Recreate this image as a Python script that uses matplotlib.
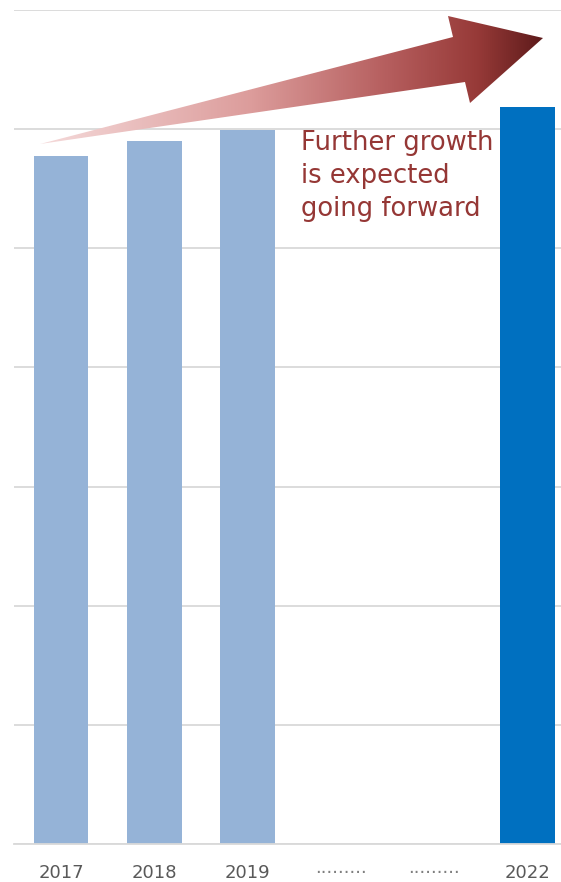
import numpy as np
import matplotlib
matplotlib.use("Agg")
import matplotlib.pyplot as plt
from matplotlib.patches import Polygon
from matplotlib.colors import LinearSegmentedColormap

# ---- data ----
categories = ["2017", "2018", "2019", "·········", "·········", "2022"]
values = [5.775, 5.90, 5.995, np.nan, np.nan, 6.186]
bar_colors = ["#95B3D7", "#95B3D7", "#95B3D7", "#95B3D7", "#95B3D7", "#0070C0"]
grid_ticks = [0, 1, 2, 3, 4, 5, 6, 7]
annotation = "Further growth\nis expected\ngoing forward"

W, H = 561, 882
fig = plt.figure(figsize=(W / 100, H / 100), dpi=100)
plt.rcParams['font.family'] = ['DejaVu Sans']

# main axes (extends slightly beyond right edge like the reference crop)
left_px, right_px, top_px, bot_px = 14.35, 14.35 + 6 * 93.3, 10, 844
ax = fig.add_axes([left_px / W, 1 - bot_px / H, (right_px - left_px) / W, (bot_px - top_px) / H])
x = np.arange(len(categories))
vals = np.nan_to_num(np.array(values, dtype=float), nan=0.0)
ax.bar(x, vals, width=0.585, color=bar_colors, zorder=2)
ax.set_xlim(-0.5, len(categories) - 0.5)
ax.set_ylim(grid_ticks[0], grid_ticks[-1])
ax.set_yticks(grid_ticks)
ax.yaxis.grid(True, color="#D9D9D9", linewidth=1.3, zorder=0)
ax.set_axisbelow(True)
ax.tick_params(axis="y", left=False, labelleft=False)
ax.set_xticks(x)
ax.set_xticklabels(categories, fontsize=13, color="#595959")
for lbl in ax.get_xticklabels():
    if lbl.get_text().startswith("·"):
        lbl.set_color("#7F7F7F")
ax.tick_params(axis="x", length=0, pad=14.2)
for s in ["top", "right", "left"]:
    ax.spines[s].set_visible(False)
ax.spines["bottom"].set_color("#D9D9D9")
ax.spines["bottom"].set_linewidth(1.3)
ax.patch.set_alpha(0)

# overlay axes in pixel coordinates for arrow and annotation
ov = fig.add_axes([0, 0, 1, 1], zorder=5)
ov.set_xlim(0, W)
ov.set_ylim(H, 0)
ov.axis("off")
ov.patch.set_alpha(0)

arrow_pts = np.array([[40, 144], [453, 37], [448, 16], [543, 38], [470, 103], [465, 82]])
poly = Polygon(arrow_pts, closed=True, facecolor="none", edgecolor="none")
ov.add_patch(poly)
cmap = LinearSegmentedColormap.from_list(
    "grad",
    [(0.0, "#F5DADA"), (0.42, "#DC9C9B"), (0.7, "#B45C5C"), (0.87, "#973A38"), (1.0, "#5E1B1B")],
)
grad = np.linspace(0, 1, 512).reshape(1, -1)
im = ov.imshow(grad, cmap=cmap, aspect="auto", extent=[40, 543, 144, 16], interpolation="bilinear")
im.set_clip_path(poly)
ov.set_xlim(0, W)
ov.set_ylim(H, 0)

ov.text(301, 130, annotation, fontsize=18.6, color="#953735", ha="left", va="top", linespacing=1.35)

fig.savefig("out.png", dpi=100)
